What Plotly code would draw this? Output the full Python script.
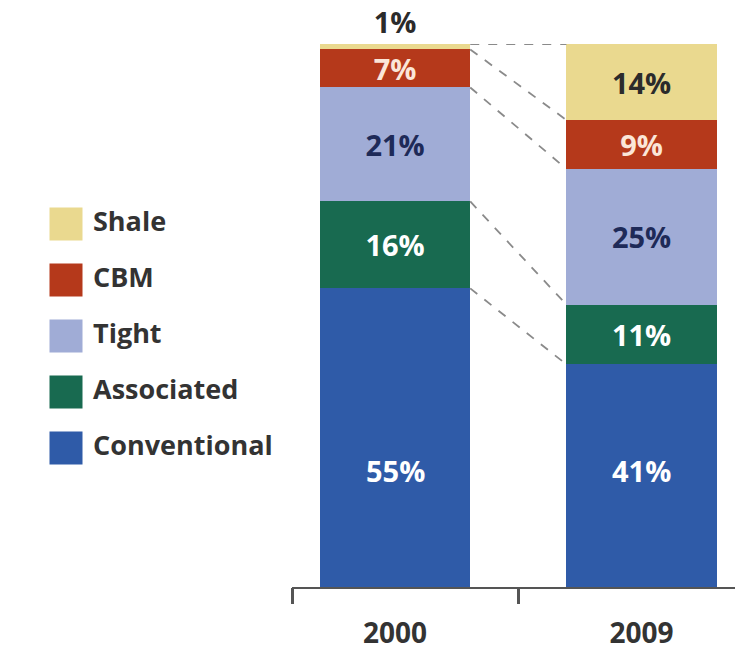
import plotly.graph_objects as go

# Share of gas production by source, 2000 vs 2009 (percent)
years = ["2000", "2009"]
series = ["Conventional", "Associated", "Tight", "CBM", "Shale"]
conventional = [55, 41]
associated = [16, 11]
tight = [21, 25]
cbm = [7, 9]
shale = [1, 14]
values = [conventional, associated, tight, cbm, shale]

colors = ["#2f5ba8", "#186a50", "#a0acd6", "#b5391b", "#ead98f"]
label_colors = ["#ffffff", "#ffffff", "#1e2a58", "#fbe6d8", "#2b2b2b"]

FONT = "Open Sans"
LABEL_SIZE = 29
bar_x = [0, 1]
bar_w = 0.61
base_label_y = 21.5  # the bottom series' labels share one baseline height

fig = go.Figure()

# stacked bars with percentage labels
for name, vals, col, lcol in zip(series, values, colors, label_colors):
    is_top = name == series[-1]
    is_base = name == series[0]
    positions = ["outside" if (is_top and v < 3) else "inside" for v in vals]
    fig.add_trace(go.Bar(
        x=bar_x, y=vals, width=bar_w, name=name,
        marker=dict(color=col, line=dict(width=0)),
        text=None if is_base else [f"{v}%" for v in vals],
        textposition=positions,
        insidetextanchor="middle",
        constraintext="none",
        textangle=0,
        insidetextfont=dict(family=FONT, size=LABEL_SIZE, color=lcol, weight="bold"),
        outsidetextfont=dict(family=FONT, size=LABEL_SIZE, color="#2b2b2b", weight="bold"),
        cliponaxis=False,
        showlegend=False,
        hoverinfo="skip",
        xaxis="x", yaxis="y",
    ))
    if is_base:
        for xi, v in zip(bar_x, vals):
            fig.add_annotation(
                x=xi, y=base_label_y, xref="x", yref="y", text=f"{v}%",
                showarrow=False,
                font=dict(family=FONT, size=LABEL_SIZE, color=lcol, weight="bold"),
            )

# dashed connectors between matching segment boundaries of the two bars
cum = []
for i in range(len(years)):
    run, levels = 0, []
    for vals in values:
        run += vals[i]
        levels.append(run)
    cum.append(levels)
for k in range(len(series)):
    fig.add_trace(go.Scatter(
        x=[bar_x[0] + bar_w / 2, bar_x[1] - bar_w / 2],
        y=[cum[0][k], cum[1][k]],
        mode="lines",
        line=dict(color="#8a8a8a", width=1.8, dash="dash"),
        showlegend=False, hoverinfo="skip",
        xaxis="x2", yaxis="y",
    ))

# hand-built legend: big square swatches with bold labels
legend_order = series[::-1]
legend_colors = colors[::-1]
legend_y = [224 + 56 * i for i in range(len(legend_order))]
fig.add_trace(go.Scatter(
    x=[66] * len(legend_order), y=legend_y,
    mode="markers",
    marker=dict(symbol="square", size=33, color=legend_colors, line=dict(width=0)),
    showlegend=False, hoverinfo="skip",
    xaxis="x3", yaxis="y3",
))
fig.add_trace(go.Scatter(
    x=[93] * len(legend_order), y=legend_y,
    mode="text",
    text=legend_order,
    textposition="middle right",
    textfont=dict(family=FONT, size=27, color="#333333", weight="bold"),
    showlegend=False, hoverinfo="skip",
    xaxis="x3", yaxis="y3",
))

x_lo, x_hi = -0.418, 1.379
fig.update_layout(
    width=735, height=652,
    margin=dict(l=0, r=0, t=44, b=65),
    paper_bgcolor="white", plot_bgcolor="white",
    barmode="stack",
    xaxis=dict(
        domain=[292 / 735, 1], range=[x_lo, x_hi],
        tickvals=bar_x, ticktext=years, ticks="",
        tickfont=dict(family=FONT, size=28, color="#333333", weight="bold"),
        ticklabelstandoff=20,
        showline=True, linecolor="#555555", linewidth=2,
        showgrid=False, zeroline=False, anchor="y",
    ),
    xaxis2=dict(
        overlaying="x", domain=[292 / 735, 1], range=[x_lo, x_hi],
        tickvals=[x_lo + 0.004, 0.5], ticks="outside", ticklen=16,
        tickwidth=2.5, tickcolor="#555555", showticklabels=False,
        showline=False, showgrid=False, zeroline=False, anchor="y",
    ),
    yaxis=dict(range=[0, 100], visible=False, domain=[0, 1]),
    xaxis3=dict(domain=[0, 292 / 735], range=[0, 292], visible=False, anchor="y3"),
    yaxis3=dict(domain=[0, 1], range=[587, 44], visible=False, anchor="x3"),
)

fig.write_html("out.html")
